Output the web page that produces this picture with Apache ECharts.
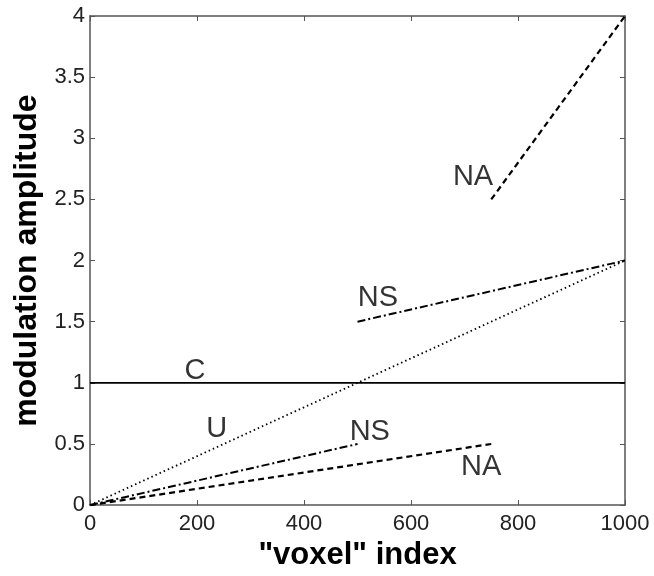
<!DOCTYPE html>
<html>
<head>
<meta charset="utf-8">
<script src="https://cdn.jsdelivr.net/npm/echarts@6/dist/echarts.min.js"></script>
<style>
  html, body { margin: 0; padding: 0; background: #fff; }
  #chart { width: 654px; height: 576px; }
</style>
</head>
<body>
<div id="chart"></div>
<script>
// line segments (x = voxel index, y = modulation amplitude)
var cLine  = [[0, 1], [1000, 1]];
var uLine  = [[0, 0], [1000, 2]];
var nsLow  = [[0, 0], [500, 0.5]];
var nsHigh = [[500, 1.5], [1000, 2]];
var naLow  = [[0, 0], [750, 0.5]];
var naHigh = [[750, 2.5], [1000, 4]];

// text labels placed inside the plot
var labelText = ['NA', 'NS', 'C', 'U', 'NS', 'NA'];
var labelX    = [716, 538, 196, 237, 523, 731];
var labelY    = [2.685, 1.69, 1.10, 0.62, 0.60, 0.31];

var xTicks = [0, 200, 400, 600, 800, 1000];
var yTicks = [0, 0.5, 1, 1.5, 2, 2.5, 3, 3.5, 4];

var font = '"Liberation Sans", Arial, sans-serif';
var axisColor = '#555';

function lineSeries(name, data, type, width) {
  return {
    name: name,
    type: 'line',
    data: data,
    symbol: 'none',
    silent: true,
    lineStyle: { color: '#000', width: width, type: type }
  };
}

var labelData = labelText.map(function (t, i) {
  return { value: [labelX[i], labelY[i]], name: t };
});

var baseX = {
  type: 'value', min: xTicks[0], max: xTicks[xTicks.length - 1], interval: 200,
  axisLine: { show: true, onZero: false, lineStyle: { color: axisColor, width: 1.5 } },
  axisTick: { show: true, inside: true, length: 5, lineStyle: { color: axisColor } },
  splitLine: { show: false }
};
var baseY = {
  type: 'value', min: yTicks[0], max: yTicks[yTicks.length - 1], interval: 0.5,
  axisLine: { show: true, onZero: false, lineStyle: { color: axisColor, width: 1.5 } },
  axisTick: { show: true, inside: true, length: 5, lineStyle: { color: axisColor } },
  splitLine: { show: false }
};

var option = {
  animation: false,
  backgroundColor: '#fff',
  grid: { left: 90, right: 29, top: 16, bottom: 64 },
  xAxis: [
    Object.assign({}, baseX, {
      position: 'bottom',
      name: '"voxel" index',
      nameLocation: 'middle',
      nameGap: 22,
      nameTextStyle: { fontFamily: font, fontSize: 31, fontWeight: 'bold', color: '#000' },
      axisLabel: { fontFamily: font, fontSize: 22, color: '#222', margin: 8,
        formatter: function (v) { return String(v); } }
    }),
    Object.assign({}, baseX, {
      position: 'top',
      axisLabel: { show: false }
    })
  ],
  yAxis: [
    Object.assign({}, baseY, {
      position: 'left',
      name: 'modulation amplitude',
      nameLocation: 'middle',
      nameGap: 40,
      nameTextStyle: { fontFamily: font, fontSize: 32, fontWeight: 'bold', color: '#000' },
      axisLabel: { fontFamily: font, fontSize: 22, color: '#222', margin: 5 }
    }),
    Object.assign({}, baseY, {
      position: 'right',
      axisLabel: { show: false }
    })
  ],
  series: [
    lineSeries('C', cLine, 'solid', 1.8),
    lineSeries('U', uLine, [1.5, 3], 1.8),
    lineSeries('NS low', nsLow, [8, 3, 2, 3], 2),
    lineSeries('NS high', nsHigh, [8, 3, 2, 3], 2),
    lineSeries('NA low', naLow, [6, 4], 2.2),
    lineSeries('NA high', naHigh, [6, 4], 2.2),
    {
      type: 'scatter',
      data: labelData,
      symbolSize: 0,
      silent: true,
      label: {
        show: true,
        position: 'inside',
        formatter: function (p) { return p.name; },
        fontFamily: font,
        fontSize: 29,
        color: '#000'
      }
    }
  ]
};

var chart = echarts.init(document.getElementById('chart'));
chart.setOption(option);
window.addEventListener('resize', function () { chart.resize(); });
</script>
</body>
</html>
